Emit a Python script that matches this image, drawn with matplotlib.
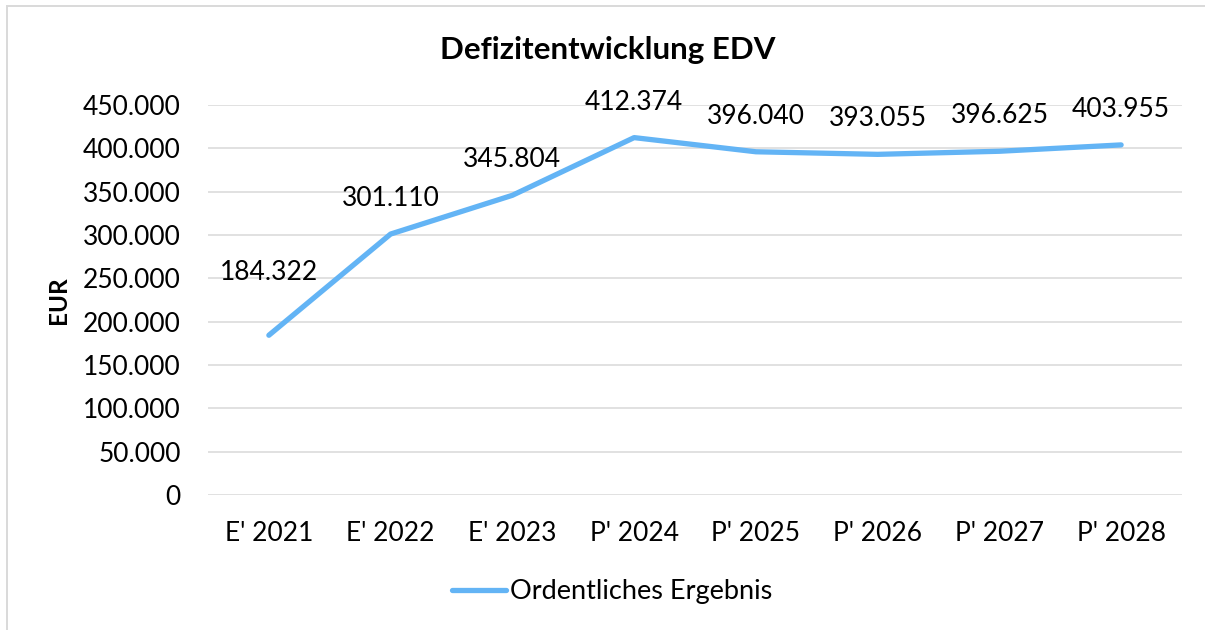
import matplotlib.pyplot as plt
from matplotlib.patches import Rectangle
from matplotlib.ticker import FuncFormatter, MultipleLocator

plt.rcParams['font.family'] = ['Lato', 'DejaVu Sans']

jahre = ["E' 2021", "E' 2022", "E' 2023", "P' 2024", "P' 2025", "P' 2026", "P' 2027", "P' 2028"]
ergebnis = [184322, 301110, 345804, 412374, 396040, 393055, 396625, 403955]
serie = "Ordentliches Ergebnis"
titel = "Defizitentwicklung EDV"


def de_format(v, pos=None):
    return f"{v:,.0f}".replace(",", ".")


W, H = 1205, 630
fig = plt.figure(figsize=(W / 100, H / 100), dpi=100)
ax = fig.add_axes([208 / W, 1 - 495 / H, (1182 - 208) / W, (495 - 105) / H])

x = list(range(len(jahre)))
linie, = ax.plot(x, ergebnis, color='#63B4F5', lw=3.8, solid_capstyle='round',
                 solid_joinstyle='round', label=serie)

# labels sit above the points, the first one a bit higher
for i, v in enumerate(ergebnis):
    off = 45.5 if i == 0 else 25.5
    ax.annotate(de_format(v), (i, v), xytext=(0, off), textcoords='offset points',
                ha='center', va='center', fontsize=19, color='#000000')

ax.set_xlim(-0.5, len(jahre) - 0.5)
ax.set_ylim(0, 450000)
ax.yaxis.set_major_locator(MultipleLocator(50000))
ax.yaxis.set_major_formatter(FuncFormatter(de_format))
ax.set_xticks(x)
ax.set_xticklabels(jahre)
ax.tick_params(axis='both', length=0, labelsize=19, colors='#000000')
ax.tick_params(axis='y', pad=19.5)
ax.tick_params(axis='x', pad=18.5)
ax.grid(axis='y', color='#D9D9D9', lw=1.1)
ax.set_axisbelow(True)
for s in ax.spines.values():
    s.set_visible(False)

fig.text(608 / W, 1 - 50 / H, titel, ha='center', va='center', fontsize=22.5,
         fontweight='bold')
fig.text(58 / W, 1 - 300 / H, "EUR", ha='center', va='center', rotation=90,
         fontsize=17.5, fontweight='bold')

fig.legend(handles=[linie], loc='center', bbox_to_anchor=(612 / W, 1 - 592 / H),
           frameon=False, fontsize=19.5, handlelength=2.0, handletextpad=0.15)

fig.patches.append(Rectangle((7 / W, -0.1), 1.2, 1.1 - 6.5 / H, transform=fig.transFigure,
                             fill=False, edgecolor='#D9D9D9', lw=1.4))

fig.savefig('out.png', dpi=100)
